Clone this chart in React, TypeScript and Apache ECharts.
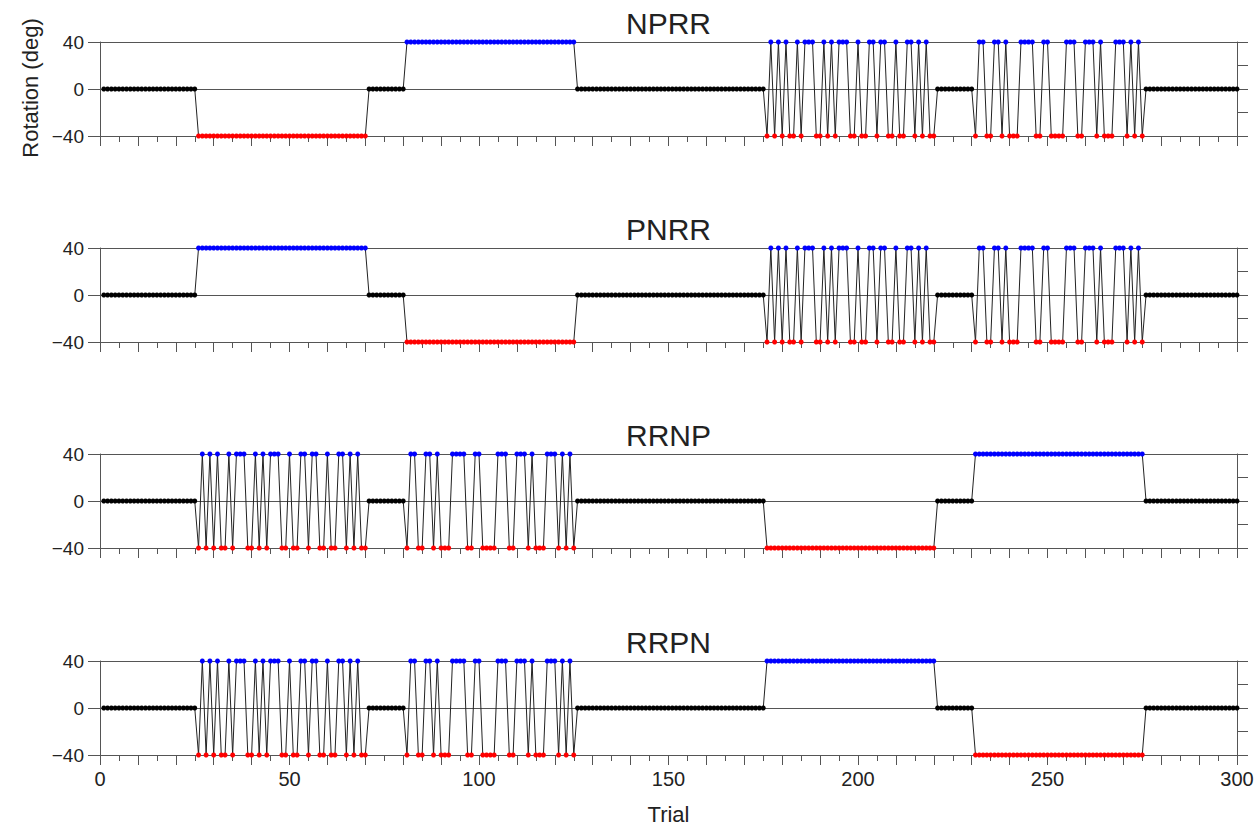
import React, { useEffect, useRef } from "react";
import * as echarts from "echarts";

// ---- Data ----
const panelNames = ["NPRR", "PNRR", "RRNP", "RRPN"];

// Random ±40 sequence used in the first "R" block (45 trials)
const seqA = [
  -40, 40, -40, 40, -40, 40, -40, -40, 40, -40,
  40, 40, 40, -40, -40, 40, -40, 40, -40, 40,
  40, 40, -40, -40, 40, -40, -40, 40, 40, -40,
  40, 40, -40, -40, 40, -40, -40, 40, 40, -40,
  40, -40, 40, -40, -40,
];

// Random ±40 sequence used in the second "R" block (45 trials)
const seqB = [
  -40, 40, 40, -40, -40, 40, 40, -40, 40, -40,
  -40, -40, 40, 40, 40, 40, -40, -40, 40, 40,
  -40, -40, -40, -40, 40, 40, 40, -40, -40, 40,
  40, 40, -40, 40, -40, -40, -40, 40, 40, 40,
  -40, 40, -40, 40, -40,
];

// Block schedules: [number of trials, rotation] or a random sequence name
type Block = [number, number] | "A" | "B";
const scheduleNPRR: Block[] = [[25, 0], [45, -40], [10, 0], [45, 40], [50, 0], "A", [10, 0], "B", [25, 0]];
const schedulePNRR: Block[] = [[25, 0], [45, 40], [10, 0], [45, -40], [50, 0], "A", [10, 0], "B", [25, 0]];
const scheduleRRNP: Block[] = [[25, 0], "A", [10, 0], "B", [50, 0], [45, -40], [10, 0], [45, 40], [25, 0]];
const scheduleRRPN: Block[] = [[25, 0], "A", [10, 0], "B", [50, 0], [45, 40], [10, 0], [45, -40], [25, 0]];
const schedules = [scheduleNPRR, schedulePNRR, scheduleRRNP, scheduleRRPN];

const xTickLabels = [0, 50, 100, 150, 200, 250, 300];
const yTickLabels = [-40, 0, 40];

// ---- Styling ----
const FONT = "'Liberation Sans', Arial, Helvetica, sans-serif";
const AXIS = "#555";
const TEXT = "#222";
const GRID_LEFT = 100;
const GRID_WIDTH = 1137;
const GRID_TOPS = [42, 248, 454, 661];
const GRID_HEIGHT = 94;

function expand(schedule: Block[]): number[] {
  const out: number[] = [];
  for (const b of schedule) {
    if (b === "A") out.push(...seqA);
    else if (b === "B") out.push(...seqB);
    else for (let k = 0; k < b[0]; k++) out.push(b[1]);
  }
  return out;
}

function colorFor(v: number) {
  if (v > 0) return "#0000ff";
  if (v < 0) return "#ff0000";
  return "#000000";
}

const minus = (v: number) => (v < 0 ? "\u2212" + Math.abs(v) : String(v));

export default function App() {
  const ref = useRef<HTMLDivElement>(null);

  useEffect(() => {
    if (!ref.current) return;
    const chart = echarts.init(ref.current, undefined, { renderer: "svg" });

    const grids = GRID_TOPS.map((t) => ({
      left: GRID_LEFT,
      width: GRID_WIDTH,
      top: t,
      height: GRID_HEIGHT,
      containLabel: false,
    }));

    const xAxes = GRID_TOPS.map((_, i) => ({
      type: "value",
      gridIndex: i,
      min: 0,
      max: 300,
      interval: 10,
      axisLine: { show: true, onZero: false, lineStyle: { color: AXIS, width: 1 } },
      axisTick: { show: true, length: 10, lineStyle: { color: AXIS, width: 1 } },
      minorTick: { show: true, splitNumber: 2, length: 6, lineStyle: { color: AXIS, width: 1 } },
      splitLine: { show: false },
      axisLabel: {
        show: i === 3,
        margin: 14,
        fontSize: 20,
        fontFamily: FONT,
        color: TEXT,
        formatter: (v: number) => (xTickLabels.includes(v) ? String(v) : ""),
      },
    }));

    const leftY = GRID_TOPS.map((_, i) => ({
      type: "value",
      gridIndex: i,
      position: "left",
      min: -40,
      max: 40,
      interval: 40,
      axisLine: { show: true, onZero: false, lineStyle: { color: AXIS, width: 1 } },
      axisTick: { show: true, length: 12, lineStyle: { color: AXIS, width: 1 } },
      splitLine: { show: true, lineStyle: { color: AXIS, width: 1 } },
      axisLabel: {
        margin: 16,
        fontSize: 19,
        fontFamily: FONT,
        color: TEXT,
        formatter: (v: number) => (yTickLabels.includes(v) ? minus(v) : ""),
      },
    }));

    const rightY = GRID_TOPS.map((_, i) => ({
      type: "value",
      gridIndex: i,
      position: "right",
      min: -40,
      max: 40,
      interval: 20,
      axisLine: { show: true, onZero: false, lineStyle: { color: AXIS, width: 1 } },
      axisTick: { show: true, length: 11, lineStyle: { color: AXIS, width: 1 } },
      splitLine: { show: false },
      axisLabel: { show: false },
    }));

    const series = schedules.map((sch, i) => {
      const vals = expand(sch);
      return {
        type: "line",
        xAxisIndex: i,
        yAxisIndex: i,
        symbol: "circle",
        symbolSize: 5,
        showSymbol: true,
        showAllSymbol: true,
        silent: true,
        lineStyle: { color: "#222", width: 1 },
        itemStyle: { color: "#000" },
        emphasis: { disabled: true },
        data: vals.map((v, k) => ({
          value: [k + 1, v],
          itemStyle: { color: colorFor(v) },
        })),
      };
    });

    const textStyle = (text: string, fontSize: number) => ({
      text,
      fontSize,
      fontFamily: FONT,
      fill: TEXT,
      align: "center",
      verticalAlign: "middle",
      textAlign: "center",
      textVerticalAlign: "middle",
    });

    const graphics: any[] = panelNames.map((name, i) => ({
      type: "text",
      x: GRID_LEFT + GRID_WIDTH / 2,
      y: GRID_TOPS[i] - 18.5,
      style: textStyle(name, 30),
    }));
    graphics.push({
      type: "text",
      x: 30,
      y: 88,
      rotation: Math.PI / 2,
      style: textStyle("Rotation (deg)", 22),
    });
    graphics.push({
      type: "text",
      x: GRID_LEFT + GRID_WIDTH / 2,
      y: 814,
      style: textStyle("Trial", 22),
    });

    chart.setOption({
      animation: false,
      backgroundColor: "#ffffff",
      textStyle: { fontFamily: FONT },
      grid: grids,
      xAxis: xAxes,
      yAxis: [...leftY, ...rightY],
      series,
      graphic: graphics,
    });

    return () => chart.dispose();
  }, []);

  return (
    <div
      ref={ref}
      style={{ position: "fixed", left: 0, top: 0, width: 1260, height: 827 }}
    />
  );
}
